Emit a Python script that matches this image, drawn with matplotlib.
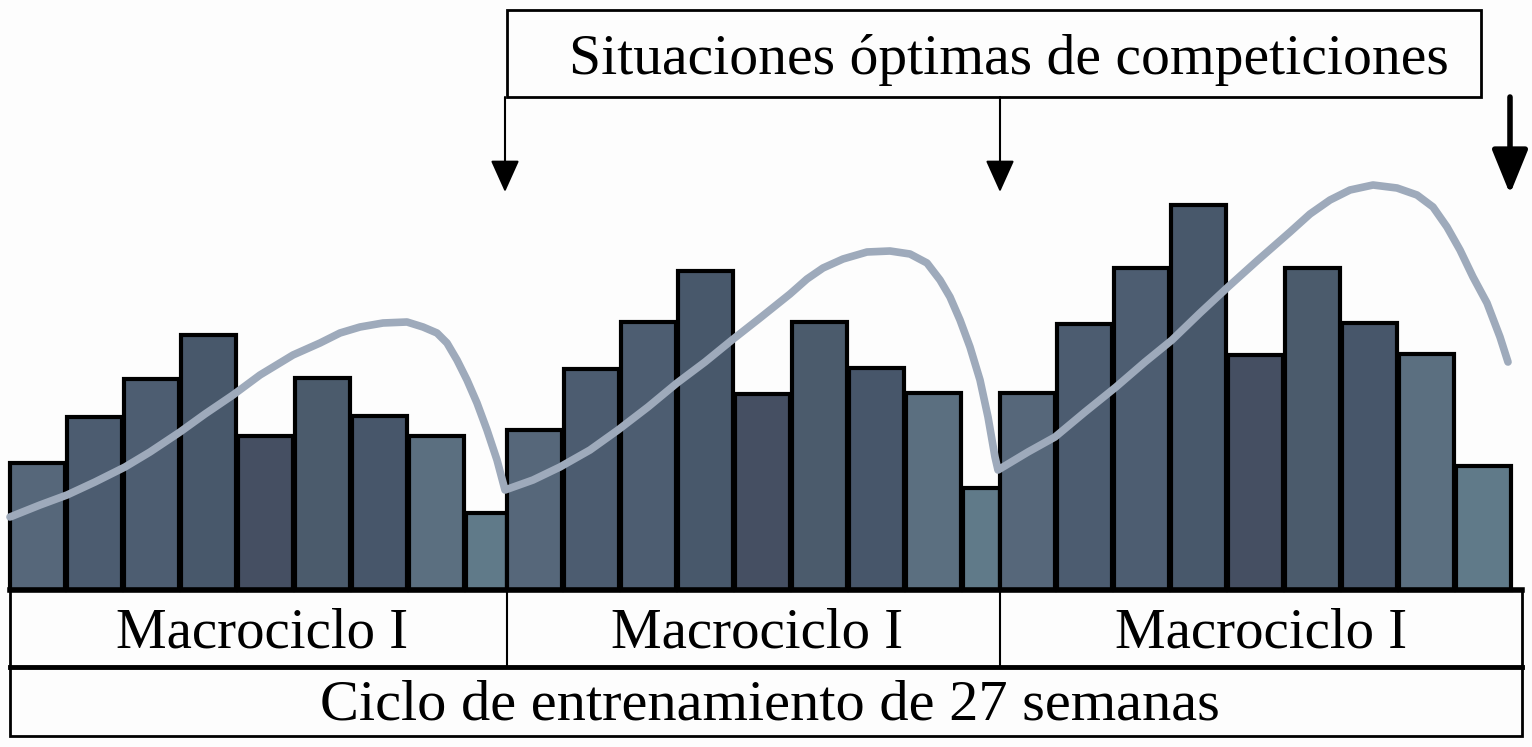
import matplotlib.pyplot as plt
import numpy as np
from matplotlib.patches import Rectangle

plt.rcParams['font.family'] = ['Liberation Serif', 'DejaVu Serif']

# textos
titulo = "Situaciones óptimas de competiciones"
macro_labels = ["Macrociclo I", "Macrociclo I", "Macrociclo I"]
ciclo_label = "Ciclo de entrenamiento de 27 semanas"

# carga semanal (unidades arbitrarias), 9 semanas por macrociclo
carga_m1 = [127, 173, 211, 255, 154, 212, 174, 154, 77]
carga_m2 = [160, 221, 268, 319, 196, 268, 222, 197, 102]
carga_m3 = [197, 266, 322, 385, 235, 322, 267, 236, 124]

# curva de la forma deportiva (posicion en el eje, nivel)
forma_x = [10, 40, 67, 95, 125, 150, 180, 205, 233, 260, 293, 320, 340, 360,
           383, 407, 423, 437, 447, 457, 467, 477, 487, 497, 505,
           533, 560, 590, 618, 648, 677, 705, 732, 760, 790, 807, 823, 843,
           867, 890, 910, 927, 940, 950, 960, 970, 980, 988, 995, 998,
           1028, 1055, 1085, 1116, 1145, 1172, 1200, 1228, 1258, 1290, 1310,
           1330, 1350, 1373, 1397, 1417, 1433, 1447, 1460, 1473, 1487, 1500, 1508]
forma_y = [73, 85, 95, 108, 123, 138, 158, 176, 195, 215, 235, 247, 257, 263,
           267, 268, 263, 257, 247, 230, 210, 187, 160, 130, 100,
           110, 123, 140, 160, 183, 207, 228, 250, 272, 296, 311, 322, 331,
           338, 339, 336, 327, 310, 293, 270, 243, 210, 173, 133, 120,
           138, 153, 178, 203, 228, 250, 277, 303, 330, 358, 376,
           390, 400, 405, 402, 395, 383, 363, 340, 313, 287, 253, 228]

# semanas con competicion (flechas)
compet_x = [505, 1000, 1510]

# layout
inicio = [10, 507, 1000]
fin = [507, 1000, 1511]
paso = 57
ancho = 55
x_izq, x_der = 10, 1522
colores = ['#56677a', '#4c5c70', '#4d5d71', '#48586b', '#454f62',
           '#4b5b6c', '#47566a', '#5b6f80', '#607a89']

fig = plt.figure(figsize=(15.32, 7.47), dpi=100)
fig.patch.set_facecolor('#fdfdfd')
ax = fig.add_axes([0, 0, 1, 1])
ax.set_xlim(0, 1532)
ax.set_ylim(-157, 590)
ax.axis('off')

# barras
for m, carga in enumerate([carga_m1, carga_m2, carga_m3]):
    lefts = [inicio[m] + paso * k for k in range(9)]
    widths = [ancho] * 8 + [fin[m] - lefts[8]]
    ax.bar(lefts, carga, width=widths, align='edge', color=colores,
           edgecolor='black', linewidth=3, zorder=2)

# curva
ax.plot(forma_x, forma_y, color='#9eaabb', lw=5.5, solid_capstyle='round',
        solid_joinstyle='round', zorder=3)

# linea base y cajas inferiores
ax.plot([x_izq, x_der], [0, 0], color='black', lw=4, zorder=4)
ax.add_patch(Rectangle((x_izq, -77), x_der - x_izq, 77, fill=False,
                       edgecolor='black', lw=2, zorder=4))
ax.plot([x_izq, x_der], [-77, -77], color='black', lw=3.5, zorder=4)
ax.add_patch(Rectangle((x_izq, -146), x_der - x_izq, 69, fill=False,
                       edgecolor='black', lw=2, zorder=4))
for xd in inicio[1:]:
    ax.plot([xd, xd], [0, -77], color='black', lw=1.5, zorder=4)

centros = [(inicio[0] + inicio[1]) / 2 + 4, (inicio[1] + inicio[2]) / 2 + 4,
           (inicio[2] + x_der) / 2]
for c, lab in zip(centros, macro_labels):
    ax.text(c, -44, lab, ha='center', va='center', fontsize=41, zorder=5)
ax.text((x_izq + x_der) / 2 + 4, -116, ciclo_label, ha='center', va='center',
        fontsize=42, zorder=5)

# caja del titulo
ax.add_patch(Rectangle((507, 493), 974, 87, fill=False, edgecolor='black',
                       lw=2, zorder=4))
ax.text(1009, 530, titulo, ha='center', va='center', fontsize=41.5, zorder=5)

# flechas
for i, xc in enumerate(compet_x):
    if i < 2:
        style = '-|>,head_length=1.0,head_width=0.45'
        lw, tip = 1.5, 398
    else:
        style = '-|>,head_length=1.35,head_width=0.55'
        lw, tip = 4, 396
    ax.annotate('', xy=(xc, tip), xytext=(xc, 493),
                arrowprops=dict(arrowstyle=style, lw=lw, color='black',
                                mutation_scale=20, shrinkA=0, shrinkB=0))

fig.savefig('out.png', dpi=100, facecolor=fig.get_facecolor())
